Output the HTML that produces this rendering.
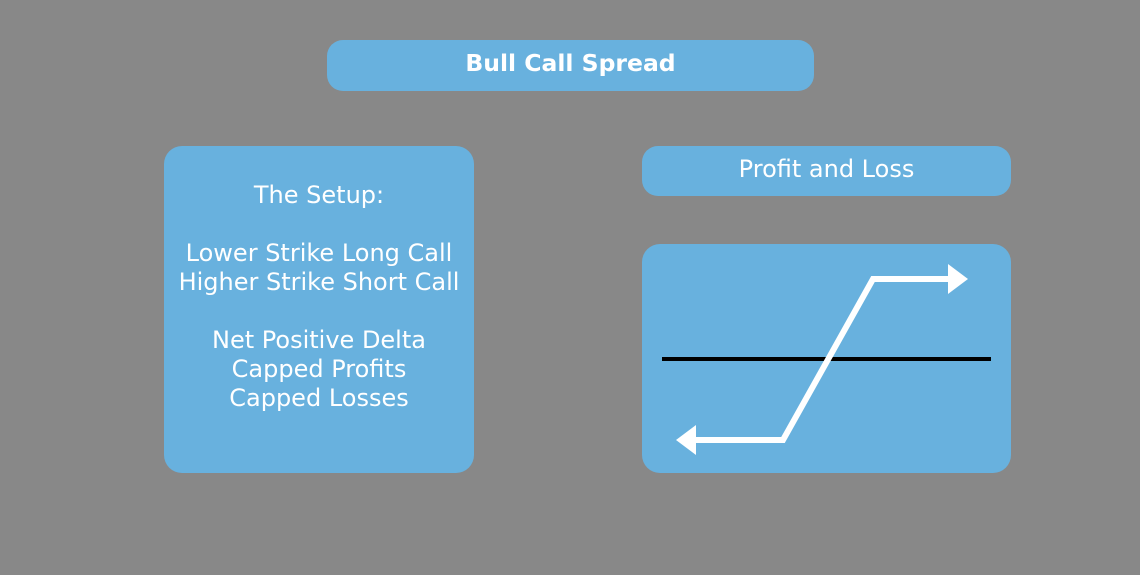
<!DOCTYPE html>
<html><head><style>
body{margin:0;width:1140px;height:575px;background:#888888;position:relative;overflow:hidden;font-family:"DejaVu Sans","Liberation Sans",sans-serif;color:#fff}
.b{position:absolute;background:#68b1de;border-radius:18px}
.t{position:absolute;left:0;right:0;text-align:center;white-space:nowrap}
</style></head><body>
<div class="b" style="left:327px;top:40px;width:487px;height:51px;border-radius:16px"><div class="t" style="top:9px;font-size:23.5px;font-weight:bold">Bull Call Spread</div></div>
<div class="b" style="left:164px;top:146px;width:310px;height:327px">
<div class="t" style="top:35px;font-size:24px;line-height:29px">The Setup:<br><br>Lower Strike Long Call<br>Higher Strike Short Call<br><br>Net Positive Delta<br>Capped Profits<br>Capped Losses</div>
</div>
<div class="b" style="left:642px;top:146px;width:369px;height:50px;border-radius:16px"><div class="t" style="top:9px;font-size:24px">Profit and Loss</div></div>
<div class="b" style="left:642px;top:244px;width:369px;height:229px"></div>
<svg style="position:absolute;left:0;top:0" width="1140" height="575">
<line x1="662" y1="359" x2="991" y2="359" stroke="#000" stroke-width="4"/>
<polyline points="692,440 783,440 873,279 950,279" fill="none" stroke="#fff" stroke-width="6"/>
<polygon points="948,264 968,279 948,294" fill="#fff"/>
<polygon points="696,425 676,440 696,455" fill="#fff"/>
</svg>
</body></html>
